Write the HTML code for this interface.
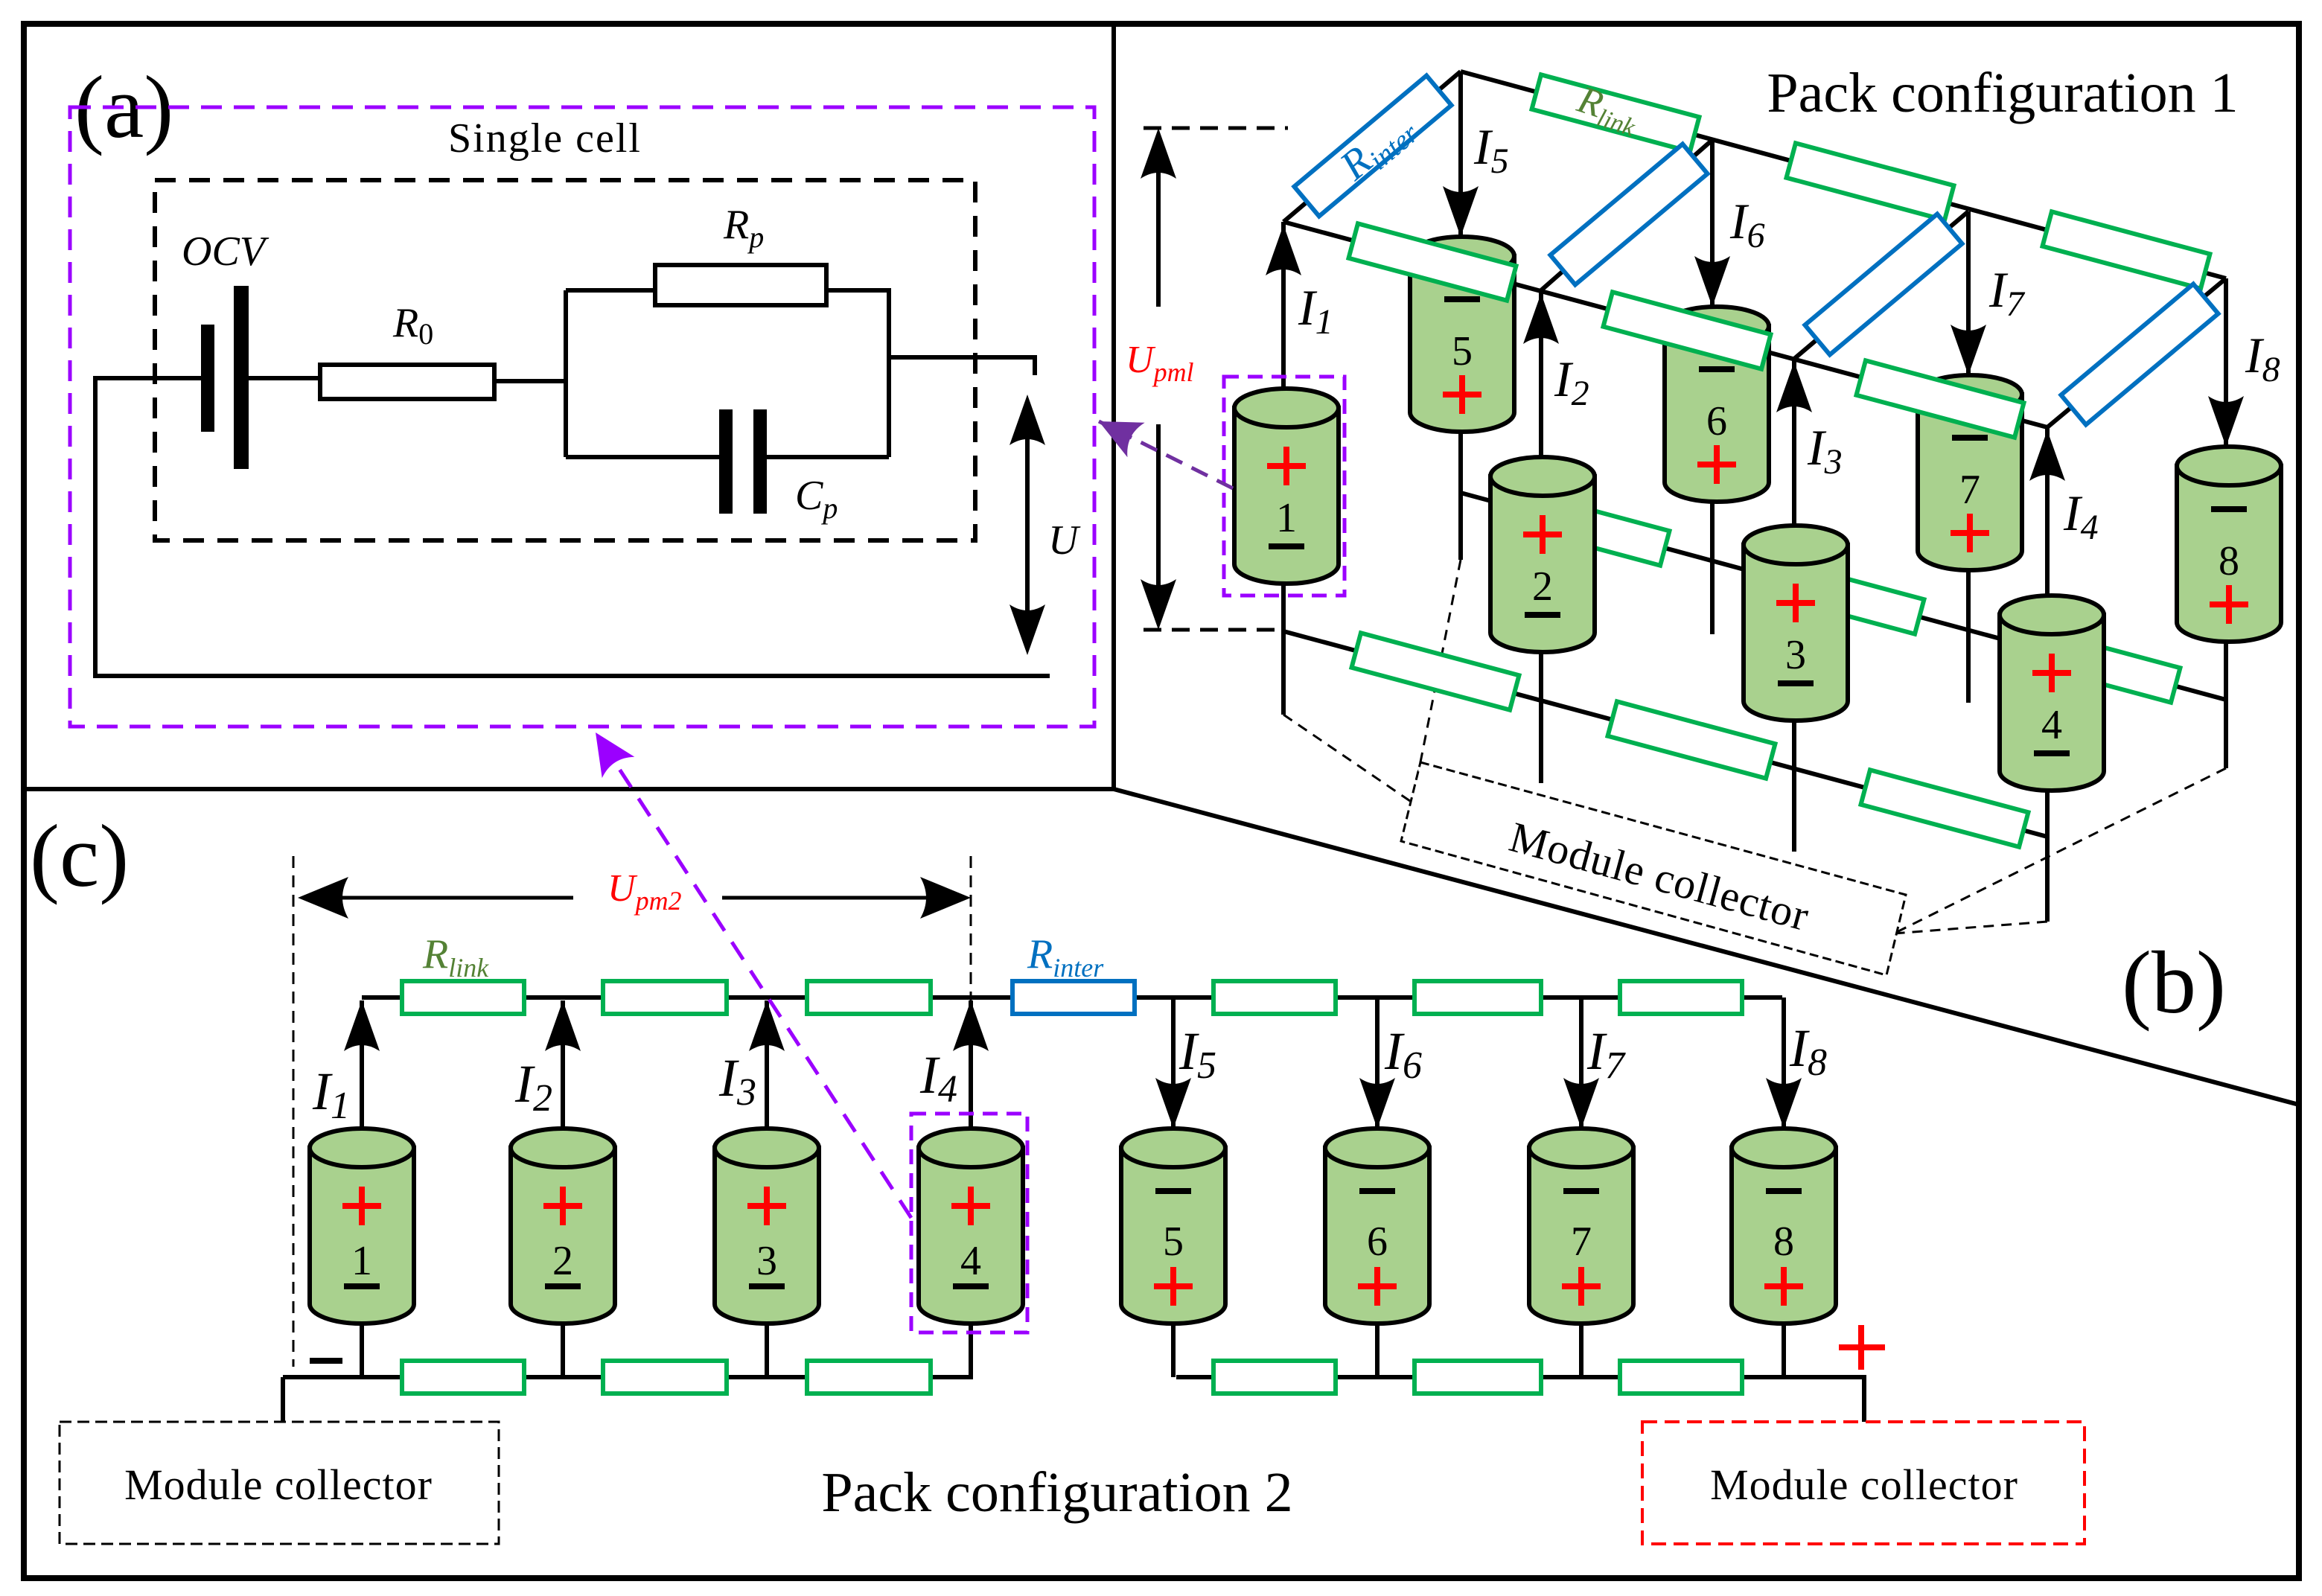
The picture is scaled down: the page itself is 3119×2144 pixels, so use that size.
<!DOCTYPE html>
<html><head><meta charset="utf-8"><style>html,body{margin:0;padding:0;background:#fff}svg{display:block}text{font-family:"Liberation Serif","Times New Roman",serif}</style></head>
<body>
<svg width="3119" height="2144" viewBox="0 0 1559.5 1072" xmlns="http://www.w3.org/2000/svg" font-family="Liberation Serif, serif">
<defs>
<g id="cyl"><path d="M-35,13 V118 A35,13 0 0 0 35,118 V13 Z" fill="#a9d18e" stroke="#000" stroke-width="3"/><ellipse cx="0" cy="13" rx="35" ry="13" fill="#a9d18e" stroke="#000" stroke-width="3"/></g>
<g id="pl"><path d="M-13,0 H13 M0,-13 V13" stroke="#f00" stroke-width="4"/></g>
<g id="mi"><path d="M-12,0 H12" stroke="#000" stroke-width="4"/></g>
<g id="cA"><use href="#cyl"/><use href="#pl" x="0" y="52"/><use href="#mi" x="0" y="106"/></g>
<g id="cB"><use href="#cyl"/><use href="#mi" x="0" y="42"/><use href="#pl" x="0" y="106"/></g>
<marker id="av" markerWidth="36" markerHeight="24" refX="34" refY="12" orient="auto" markerUnits="userSpaceOnUse" viewBox="0 0 36 24"><path d="M34,12 L0,0 Q8,12 0,24 Z" fill="#000"/></marker>
<marker id="pa" markerWidth="30" markerHeight="26" refX="28" refY="13" orient="auto" markerUnits="userSpaceOnUse" viewBox="0 0 30 26"><path d="M28,13 L0,0 Q8,13 0,26 Z" fill="#7030a0"/></marker>
<marker id="pv" markerWidth="30" markerHeight="26" refX="28" refY="13" orient="auto" markerUnits="userSpaceOnUse" viewBox="0 0 30 26"><path d="M28,13 L0,0 Q8,13 0,26 Z" fill="#9b00ff"/></marker>
</defs>
<rect x="0" y="0" width="1560" height="1072" fill="#fff"/>
<rect x="16" y="16" width="1528" height="1044" fill="none" stroke="#000" stroke-width="4"/>
<path d="M748,16 V530 H16 M748,530 L1544,742" fill="none" stroke="#000" stroke-width="3"/>

<!-- panel a -->
<text x="50" y="92" font-size="60">(a)</text>
<rect x="47" y="72" width="688" height="416" fill="none" stroke="#9b00ff" stroke-width="2.5" stroke-dasharray="14,8"/>
<text x="366" y="102" font-size="28" text-anchor="middle" letter-spacing="1">Single cell</text>
<rect x="104" y="121" width="551" height="242" fill="none" stroke="#000" stroke-width="3" stroke-dasharray="14,9"/>
<g stroke="#000" stroke-width="3" fill="none">
<path d="M140,254 H64 V454 H705"/>
<path d="M162,254 H215 M332,256 H380 M380,195 V307 M380,195 H440 M555,195 H597 V307 M380,307 H487 M513,307 H597 M597,240 H695 V252"/>
<rect x="215" y="245" width="117" height="23"/>
<rect x="440" y="178" width="115" height="27"/>
</g>
<rect x="135" y="218" width="9" height="72" fill="#000"/>
<rect x="157" y="192" width="10" height="123" fill="#000"/>
<rect x="483" y="275" width="9" height="70" fill="#000"/>
<rect x="506" y="275" width="9" height="70" fill="#000"/>
<text x="122" y="178" font-size="28" font-style="italic">OCV</text>
<text x="264" y="226" font-size="28" font-style="italic">R<tspan font-size="20" font-style="normal" dy="5">0</tspan></text>
<text x="486" y="160" font-size="28" font-style="italic">R<tspan font-size="20" dy="6">p</tspan></text>
<text x="534" y="342" font-size="28" font-style="italic">C<tspan font-size="20" dy="6">p</tspan></text>
<line x1="690" y1="275" x2="690" y2="430" stroke="#000" stroke-width="3"/>
<path d="M690,265 l-12,34 q12,-8 24,0 z M690,440 l-12,-34 q12,8 24,0 z" fill="#000"/>
<text x="704" y="372" font-size="28" font-style="italic">U</text>

<!-- panel b -->
<text x="1345" y="75" font-size="38" text-anchor="middle">Pack configuration 1</text>
<text x="1460" y="680" font-size="60" text-anchor="middle">(b)</text>
<path d="M768,86 H865 M768,423 H862" stroke="#000" stroke-width="2.5" stroke-dasharray="12,7"/>
<path d="M778,86 l-12,34 q12,-8 24,0 z M778,423 l-12,-34 q12,8 24,0 z" fill="#000"/>
<path d="M778,110 V206 M778,285 V400" stroke="#000" stroke-width="3"/>
<text x="756" y="250" font-size="26" font-style="italic" fill="#f00">U<tspan font-size="18" dy="6">pml</tspan></text>
<g stroke="#000" stroke-width="3" fill="none">
<path d="M981,48 L1495,187 M862,149 L1375,287"/>
<path d="M862,149 L981,48 M1035,195 L1150,94 M1205,241 L1322,142 M1375,287 L1495,187"/>
<path d="M981,331 L1495,470 M862,424 L1375,562"/>
<path d="M981,48 V376 M1150,94 V426 M1322,142 V472 M1495,187 V516"/>
</g>
<g stroke="#000" stroke-width="1.5" fill="none" stroke-dasharray="7,5">
<path d="M862,480 L947,538 M981,376 L950,532 M1495,516 L1272,627 M1375,619 L1272,627"/>
</g>
<g fill="#fff" stroke="#00b050" stroke-width="3">
<rect x="-55" y="-12" width="110" height="24" transform="translate(1065,354) rotate(15)"/>
<rect x="-55" y="-12" width="110" height="24" transform="translate(1236,400) rotate(15)"/>
<rect x="-55" y="-12" width="110" height="24" transform="translate(1408,446) rotate(15)"/>
</g>
<use href="#cB" x="982" y="159"/><text x="982" y="245" font-size="28" text-anchor="middle">5</text>
<use href="#cB" x="1153" y="206"/><text x="1153" y="292" font-size="28" text-anchor="middle">6</text>
<use href="#cB" x="1323" y="252"/><text x="1323" y="338" font-size="28" text-anchor="middle">7</text>
<use href="#cB" x="1497" y="300"/><text x="1497" y="386" font-size="28" text-anchor="middle">8</text>
<g fill="#fff" stroke="#00b050" stroke-width="3">
<rect x="-55" y="-12" width="110" height="24" transform="translate(1085,76) rotate(15)"/>
<rect x="-55" y="-12" width="110" height="24" transform="translate(1256,122) rotate(15)"/>
<rect x="-55" y="-12" width="110" height="24" transform="translate(1428,168) rotate(15)"/>
</g>
<g fill="#fff" stroke="#0070c0" stroke-width="3">
<rect x="-58" y="-13" width="116" height="26" transform="translate(922,98) rotate(-40)"/>
<rect x="-58" y="-13" width="116" height="26" transform="translate(1094,144) rotate(-40)"/>
<rect x="-58" y="-13" width="116" height="26" transform="translate(1265,191) rotate(-40)"/>
<rect x="-58" y="-13" width="116" height="26" transform="translate(1437,238) rotate(-40)"/>
</g>
<text transform="translate(910,122) rotate(-40)" font-size="28" font-style="italic" fill="#0070c0">R<tspan font-size="19" dy="5">inter</tspan></text>
<text transform="translate(1058,74) rotate(18)" font-size="26" font-style="italic" fill="#548235">R<tspan font-size="17" dy="5">link</tspan></text>
<g stroke="#000" stroke-width="3">
<line x1="981" y1="60" x2="981" y2="159" marker-end="url(#av)"/>
<line x1="1150" y1="100" x2="1150" y2="206" marker-end="url(#av)"/>
<line x1="1322" y1="150" x2="1322" y2="252" marker-end="url(#av)"/>
<line x1="1495" y1="195" x2="1495" y2="300" marker-end="url(#av)"/>
</g>
<g fill="#fff" stroke="#00b050" stroke-width="3">
<rect x="-55" y="-12" width="110" height="24" transform="translate(962,176) rotate(15)"/>
<rect x="-55" y="-12" width="110" height="24" transform="translate(1133,222) rotate(15)"/>
<rect x="-55" y="-12" width="110" height="24" transform="translate(1303,268) rotate(15)"/>
</g>
<g stroke="#000" stroke-width="3" fill="none">
<path d="M862,149 V480 M1035,195 V526 M1205,241 V572 M1375,287 V619"/>
</g>
<g fill="#fff" stroke="#00b050" stroke-width="3">
<rect x="-55" y="-12" width="110" height="24" transform="translate(964,451) rotate(15)"/>
<rect x="-55" y="-12" width="110" height="24" transform="translate(1136,497) rotate(15)"/>
<rect x="-55" y="-12" width="110" height="24" transform="translate(1306,543) rotate(15)"/>
</g>
<use href="#cA" x="864" y="261"/><text x="864" y="357" font-size="28" text-anchor="middle">1</text>
<use href="#cA" x="1036" y="307"/><text x="1036" y="403" font-size="28" text-anchor="middle">2</text>
<use href="#cA" x="1206" y="353"/><text x="1206" y="449" font-size="28" text-anchor="middle">3</text>
<use href="#cA" x="1378" y="400"/><text x="1378" y="496" font-size="28" text-anchor="middle">4</text>
<g stroke="#000" stroke-width="3">
<line x1="862" y1="261" x2="862" y2="151" marker-end="url(#av)"/>
<line x1="1035" y1="307" x2="1035" y2="197" marker-end="url(#av)"/>
<line x1="1205" y1="353" x2="1205" y2="243" marker-end="url(#av)"/>
<line x1="1375" y1="400" x2="1375" y2="289" marker-end="url(#av)"/>
</g>
<rect x="822" y="253" width="81" height="147" fill="none" stroke="#9b00ff" stroke-width="2.5" stroke-dasharray="10,6"/>
<line x1="828" y1="328" x2="738" y2="283" stroke="#7030a0" stroke-width="2.5" stroke-dasharray="12,7" marker-end="url(#pa)"/>
<g font-size="34" font-style="italic">
<text x="872" y="218">I<tspan font-size="24" dy="6">1</tspan></text>
<text x="1044" y="266">I<tspan font-size="24" dy="6">2</tspan></text>
<text x="1214" y="312">I<tspan font-size="24" dy="6">3</tspan></text>
<text x="1386" y="356">I<tspan font-size="24" dy="6">4</tspan></text>
<text x="990" y="110">I<tspan font-size="24" dy="6">5</tspan></text>
<text x="1162" y="160">I<tspan font-size="24" dy="6">6</tspan></text>
<text x="1336" y="206">I<tspan font-size="24" dy="6">7</tspan></text>
<text x="1508" y="250">I<tspan font-size="24" dy="6">8</tspan></text>
</g>
<polygon points="954,512 1280,601 1267,655 941,565" fill="#fff" stroke="#000" stroke-width="1.5" stroke-dasharray="6,3"/>
<text transform="translate(1112,598) rotate(15.3)" font-size="29" text-anchor="middle" letter-spacing="0.5">Module collector</text>

<!-- panel c -->
<text x="20" y="595" font-size="60">(c)</text>
<path d="M197,575 V918 M652,575 V690" stroke="#000" stroke-width="1.5" stroke-dasharray="8,5"/>
<path d="M230,603 H385 M485,603 H625" stroke="#000" stroke-width="2.5"/>
<path d="M200,603 l34,-14 q-8,14 0,28 z M652,603 l-34,-14 q8,14 0,28 z" fill="#000"/>
<text x="408" y="605" font-size="26" font-style="italic" fill="#f00">U<tspan font-size="18" dy="6">pm2</tspan></text>
<g stroke="#000" stroke-width="3" fill="none">
<path d="M243,670 H1197 M190,925 H652 V888 M790,925 H1252 V955 M190,925 V955"/>
<path d="M243,888 V925 M378,888 V925 M515,888 V925 M788,888 V925 M925,888 V925 M1062,888 V925 M1198,888 V925"/>
</g>
<g fill="#fff" stroke="#00b050" stroke-width="3">
<rect x="270" y="659" width="82" height="22"/><rect x="405" y="659" width="83" height="22"/><rect x="542" y="659" width="83" height="22"/>
<rect x="815" y="659" width="82" height="22"/><rect x="950" y="659" width="85" height="22"/><rect x="1088" y="659" width="82" height="22"/>
<rect x="270" y="914" width="82" height="22"/><rect x="405" y="914" width="83" height="22"/><rect x="542" y="914" width="83" height="22"/>
<rect x="815" y="914" width="82" height="22"/><rect x="950" y="914" width="85" height="22"/><rect x="1088" y="914" width="82" height="22"/>
</g>
<rect x="680" y="659" width="82" height="22" fill="#fff" stroke="#0070c0" stroke-width="3"/>
<text x="284" y="650" font-size="28" font-style="italic" fill="#548235">R<tspan font-size="18" dy="6">link</tspan></text>
<text x="690" y="650" font-size="28" font-style="italic" fill="#0070c0">R<tspan font-size="18" dy="6">inter</tspan></text>
<use href="#cA" x="243" y="758"/><text x="243" y="856" font-size="28" text-anchor="middle">1</text>
<use href="#cA" x="378" y="758"/><text x="378" y="856" font-size="28" text-anchor="middle">2</text>
<use href="#cA" x="515" y="758"/><text x="515" y="856" font-size="28" text-anchor="middle">3</text>
<use href="#cA" x="652" y="758"/><text x="652" y="856" font-size="28" text-anchor="middle">4</text>
<use href="#cB" x="788" y="758"/><text x="788" y="843" font-size="28" text-anchor="middle">5</text>
<use href="#cB" x="925" y="758"/><text x="925" y="843" font-size="28" text-anchor="middle">6</text>
<use href="#cB" x="1062" y="758"/><text x="1062" y="843" font-size="28" text-anchor="middle">7</text>
<use href="#cB" x="1198" y="758"/><text x="1198" y="843" font-size="28" text-anchor="middle">8</text>
<g stroke="#000" stroke-width="3">
<line x1="243" y1="758" x2="243" y2="672" marker-end="url(#av)"/>
<line x1="378" y1="758" x2="378" y2="672" marker-end="url(#av)"/>
<line x1="515" y1="758" x2="515" y2="672" marker-end="url(#av)"/>
<line x1="652" y1="758" x2="652" y2="672" marker-end="url(#av)"/>
<line x1="788" y1="670" x2="788" y2="758" marker-end="url(#av)"/>
<line x1="925" y1="670" x2="925" y2="758" marker-end="url(#av)"/>
<line x1="1062" y1="670" x2="1062" y2="758" marker-end="url(#av)"/>
<line x1="1198" y1="670" x2="1198" y2="758" marker-end="url(#av)"/>
</g>
<g font-size="36" font-style="italic">
<text x="210" y="745">I<tspan font-size="26" dy="6">1</tspan></text>
<text x="346" y="740">I<tspan font-size="26" dy="6">2</tspan></text>
<text x="483" y="736">I<tspan font-size="26" dy="6">3</tspan></text>
<text x="618" y="734">I<tspan font-size="26" dy="6">4</tspan></text>
<text x="792" y="718">I<tspan font-size="26" dy="6">5</tspan></text>
<text x="930" y="718">I<tspan font-size="26" dy="6">6</tspan></text>
<text x="1066" y="718">I<tspan font-size="26" dy="6">7</tspan></text>
<text x="1202" y="716">I<tspan font-size="26" dy="6">8</tspan></text>
</g>
<rect x="612" y="748" width="78" height="147" fill="none" stroke="#9b00ff" stroke-width="2.5" stroke-dasharray="10,6"/>
<line x1="612" y1="818" x2="400" y2="492" stroke="#9b00ff" stroke-width="2.5" stroke-dasharray="14,9" marker-end="url(#pv)"/>
<path d="M208,914 H230" stroke="#000" stroke-width="4"/>
<path d="M1250,890 V920 M1235,905 H1266" stroke="#f00" stroke-width="4"/>
<rect x="40" y="955" width="295" height="82" fill="#fff" stroke="#000" stroke-width="1.5" stroke-dasharray="8,4"/>
<text x="187" y="1007" font-size="29" text-anchor="middle" letter-spacing="0.5">Module collector</text>
<rect x="1103" y="955" width="297" height="82" fill="#fff" stroke="#f00" stroke-width="2" stroke-dasharray="10,5"/>
<text x="1252" y="1007" font-size="29" text-anchor="middle" letter-spacing="0.5">Module collector</text>
<text x="710" y="1015" font-size="38" text-anchor="middle">Pack configuration 2</text>
</svg>
</body></html>
